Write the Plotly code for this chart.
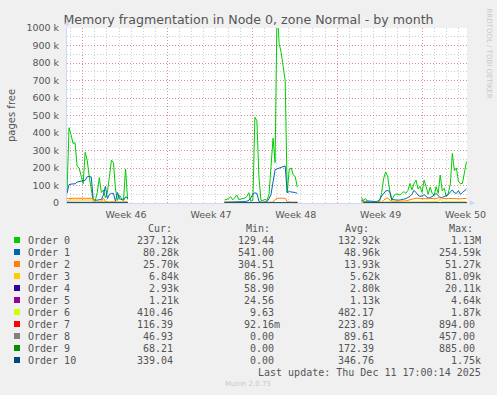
import pandas as pd
import plotly.graph_objects as go

# ---------------- data ----------------
orders = [f"Order {i}" for i in range(11)]
colors = ["#00CC00", "#0066B3", "#FF8000", "#FFCC00", "#330099", "#990099",
          "#CCFF00", "#FF0000", "#808080", "#008F00", "#00487D"]

# three recorded periods (4-hour samples), values in thousands of pages
fine_starts = ["2025-11-08 17:00", "2025-11-21 17:00", "2025-12-03 00:00"]

order0 = [
    [60, 430, 390, 340, 345, 210, 200, 150, 110, 290, 245, 150, 65, 10, 15, 60, 145, 60, 74, 30,
     60, 150, 245, 230, 80, 15, 45, 25, 20, 195, 20],
    [17, 20, 25, 36, 18, 30, 46, 20, 22, 25, 28, 36, 59, 10, 15, 490, 470, 150, 15, 15,
     20, 15, 50, 210, 370, 230, 1130, 912, 860, 780, 700, 60, 190, 200, 160, 150, 90],
    [32, 15, 25, 8, 5, 5, 4, 5, 5, 8, 60, 140, 178, 150, 70, 15, 40, 52, 50, 45,
     55, 65, 55, 72, 112, 75, 110, 131, 80, 95, 60, 130, 95, 50, 90, 55, 45, 93, 55, 160,
     70, 84, 36, 55, 110, 284, 185, 200, 125, 110, 112, 180, 237],
]
order1 = [
    [55, 105, 108, 108, 110, 120, 122, 125, 127, 130, 150, 152, 148, 20, 15, 17, 18, 20, 45, 95,
     25, 50, 55, 55, 10, 60, 25, 20, 15, 35, 30],
    [5, 5, 6, 5, 6, 5, 8, 5, 6, 5, 8, 10, 15, 30, 50, 58, 55, 10, 5, 5,
     5, 8, 25, 50, 120, 190, 195, 200, 205, 208, 212, 60, 65, 63, 62, 60, 55],
    [15, 10, 8, 12, 10, 8, 8, 8, 10, 20, 40, 55, 68, 72, 65, 20, 18, 17, 16, 17,
     18, 22, 25, 30, 38, 50, 72, 60, 45, 38, 40, 48, 35, 28, 30, 36, 45, 55, 40, 30,
     32, 38, 42, 48, 62, 75, 58, 55, 70, 50, 60, 68, 80],
]
order2 = [
    [25, 27, 27, 27, 27, 27, 27, 27, 28, 28, 28, 28, 28, 27, 4, 3, 5, 8, 28, 10,
     5, 4, 8, 6, 3, 5, 4, 3, 5, 8, 6],
    [5, 6, 8, 6, 4, 3, 3, 3, 3, 3, 3, 3, 3, 3, 3, 3, 3, 3, 3, 3,
     3, 3, 3, 3, 5, 20, 27, 28, 27, 28, 27, 8, 5, 5, 5, 5, 6],
    [8, 5, 3, 3, 3, 3, 3, 3, 4, 4, 5, 15, 27, 28, 20, 8, 8, 8, 9, 9,
     10, 10, 12, 15, 18, 25, 27, 28, 27, 26, 25, 24, 22, 24, 26, 25, 24, 26, 28, 35,
     26, 24, 25, 26, 25, 24, 25, 26, 25, 24, 25, 26, 26],
]
order3 = [
    [10, 17, 17, 17, 17, 17, 17, 17, 17, 17, 17, 17, 17, 17, 3, 4, 5, 8, 10, 6,
     4, 5, 6, 8, 5, 3, 4, 6, 8, 5, 4],
    [2, 3, 4, 3, 2, 2, 2, 2, 2, 2, 2, 2, 2, 3, 3, 3, 2, 2, 2, 2,
     2, 2, 2, 3, 3, 4, 4, 4, 4, 4, 4, 3, 3, 3, 3, 3, 3],
    [4, 3, 2, 2, 2, 2, 2, 2, 2, 3, 3, 4, 6, 7, 6, 4, 5, 5, 5, 6,
     6, 6, 6, 7, 7, 7, 8, 7, 7, 7, 7, 7, 7, 6, 7, 7, 7, 7, 8, 25,
     8, 7, 7, 7, 7, 7, 7, 7, 7, 7, 7, 7, 7],
]

# higher orders, 12-hour samples
coarse_starts = ["2025-11-08 17:00", "2025-11-21 17:00", "2025-12-03 04:00"]
order4 = [[4, 4, 4, 4, 4, 4, 4, 3, 3, 3, 3],
          [2, 2, 2, 2, 2, 2, 1.5, 1.5, 1.5, 1.5, 1.5, 1.5, 1.5],
          [2, 2, 2, 3, 3, 3, 3, 3, 4, 4, 4, 4, 4, 4, 3, 3, 3, 3]]
order5 = [[1.2, 1.2, 1.1, 1.1, 1.0, 1.0, 1.1, 1.0, 1.0, 1.1, 1.1],
          [1.0, 1.0, 1.1, 1.2, 1.3, 1.4, 1.6, 1.7, 1.7, 1.8, 1.8, 1.8, 1.8],
          [1.0, 0.9, 1.0, 1.1, 1.1, 1.2, 1.2, 1.1, 1.2, 1.2, 1.3, 1.2, 1.2, 1.3, 1.2, 1.2, 1.2, 1.21]]
order6 = [[0.6, 0.5, 0.5, 0.6, 0.4, 0.5, 0.4, 0.3, 0.4, 0.5, 0.4],
          [0.5, 0.4, 0.5, 0.6, 0.5, 0.4, 0.5, 0.6, 0.5, 0.4, 0.5, 0.4, 0.4],
          [0.4, 0.5, 0.5, 0.6, 0.5, 0.5, 0.4, 0.5, 0.6, 0.5, 0.4, 0.5, 0.5, 0.4, 0.5, 0.4, 0.4, 0.41]]
order7 = [[0.3, 0.2, 0.2, 0.3, 0.2, 0.2, 0.1, 0.2, 0.2, 0.3, 0.2],
          [0.2, 0.2, 0.3, 0.2, 0.2, 0.1, 0.2, 0.3, 0.2, 0.2, 0.2, 0.3, 0.2],
          [0.2, 0.3, 0.2, 0.2, 0.3, 0.2, 0.2, 0.2, 0.3, 0.2, 0.2, 0.2, 0.3, 0.2, 0.2, 0.1, 0.1, 0.12]]
order8 = [[0.1, 0.1, 0.1, 0.1, 0.1, 0.1, 0.1, 0.1, 0.1, 0.1, 0.1],
          [0.1, 0.1, 0.1, 0.1, 0.1, 0.1, 0.1, 0.1, 0.1, 0.1, 0.1, 0.1, 0.1],
          [0.1, 0.1, 0.1, 0.1, 0.1, 0.1, 0.1, 0.1, 0.1, 0.1, 0.1, 0.1, 0.1, 0.1, 0.1, 0.05, 0.05, 0.05]]
order9 = [[0.2, 0.2, 0.2, 0.2, 0.1, 0.2, 0.2, 0.2, 0.1, 0.2, 0.2],
          [0.2, 0.2, 0.2, 0.1, 0.2, 0.2, 0.2, 0.2, 0.1, 0.2, 0.2, 0.2, 0.2],
          [0.2, 0.2, 0.2, 0.1, 0.2, 0.2, 0.2, 0.2, 0.2, 0.1, 0.2, 0.2, 0.2, 0.2, 0.1, 0.1, 0.1, 0.07]]
order10 = [[0.4, 0.4, 0.3, 0.4, 0.3, 0.4, 0.3, 0.4, 0.3, 0.4, 0.3],
           [0.3, 0.4, 0.3, 0.4, 0.3, 0.4, 0.3, 0.4, 0.3, 0.4, 0.3, 0.3, 0.3],
           [0.4, 0.3, 0.4, 0.3, 0.4, 0.3, 0.4, 0.3, 0.4, 0.3, 0.4, 0.3, 0.4, 0.3, 0.4, 0.3, 0.3, 0.34]]

fine_series = [order0, order1, order2, order3]
coarse_series = [order4, order5, order6, order7, order8, order9, order10]

cur_vals = ["237.12k", "80.28k", "25.70k", "6.84k", "2.93k", "1.21k", "410.46", "116.39", "46.93", "68.21", "339.04"]
min_vals = ["129.44", "541.00", "304.51", "86.96", "58.90", "24.56", "9.63", "92.16m", "0.00", "0.00", "0.00"]
avg_vals = ["132.92k", "48.96k", "13.93k", "5.62k", "2.80k", "1.13k", "482.17", "223.89", "89.61", "172.39", "346.76"]
max_vals = ["1.13M", "254.59k", "51.27k", "81.09k", "20.11k", "4.64k", "1.87k", "894.00", "457.00", "885.00", "1.75k"]

y_ticks = [0, 100, 200, 300, 400, 500, 600, 700, 800, 900, 1000]
y_ticktext = ["0"] + [f"{v} k" for v in y_ticks[1:]]
week_starts = ["2025-11-10", "2025-11-17", "2025-11-24", "2025-12-01", "2025-12-08"]
week_label_pos = ["2025-11-13 14:00", "2025-11-20 14:00", "2025-11-27 14:00", "2025-12-04 14:00", "2025-12-11 14:00"]
week_labels = ["Week 46", "Week 47", "Week 48", "Week 49", "Week 50"]
x_range = ["2025-11-08 17:00:14", "2025-12-11 17:00:14"]

title = "Memory fragmentation in Node 0, zone Normal - by month"
last_update = "Last update: Thu Dec 11 17:00:14 2025"

# ---------------- figure ----------------
W, H = 497, 395
L, R, T, B = 67, 467, 28, 203


def join_segments(starts, segs, freq):
    xs, ys = [], []
    for k, (s, vals) in enumerate(zip(starts, segs)):
        t = pd.date_range(s, periods=len(vals), freq=freq)
        if k:
            xs.append(None)
            ys.append(None)
        xs += list(t)
        ys += list(vals)
    return xs, ys


fig = go.Figure()
all_series = [(fine_starts, s, "4h") for s in fine_series] + [(coarse_starts, s, "12h") for s in coarse_series]
for i, (starts, segs, freq) in enumerate(all_series):
    xs, ys = join_segments(starts, segs, freq)
    fig.add_trace(go.Scatter(x=xs, y=ys, mode="lines", name=orders[i],
                             line=dict(color=colors[i], width=1), connectgaps=False,
                             hoverinfo="skip"))

# helper trace for the label axis
fig.add_trace(go.Scatter(x=[x_range[0]], y=[0], xaxis="x2", mode="markers",
                         marker=dict(opacity=0), hoverinfo="skip", showlegend=False))

TXT = "#555555"
RED_GRID = "rgba(230,100,100,0.6)"
GRAY_GRID = "rgba(160,160,160,0.5)"


def px(x):
    return (x - L) / (R - L)


def py(y):
    return (B - y) / (B - T)


annotations = []
shapes = []
mono = "DejaVu Sans Mono"

# header
for txt, x in [("Cur:", 146), ("Min:", 244), ("Avg:", 343), ("Max:", 447)]:
    annotations.append(dict(x=px(x), y=py(228.5), xref="paper", yref="paper", text=txt,
                            xanchor="left", yanchor="middle", showarrow=False,
                            font=dict(family=mono, size=10, color=TXT)))


def fmt(v):
    return v if v[-1].isalpha() else v + "\u00a0"


for i, name in enumerate(orders):
    ry = 240.5 + 12 * i
    shapes.append(dict(type="rect", xref="paper", yref="paper",
                       x0=px(14), x1=px(20), y0=py(ry + 2.5), y1=py(ry - 3.5),
                       fillcolor=colors[i], line=dict(width=0)))
    annotations.append(dict(x=px(26), y=py(ry), xref="paper", yref="paper", text=name,
                            xanchor="left", yanchor="middle", showarrow=False,
                            font=dict(family=mono, size=10, color=TXT)))
    for vals, cx in [(cur_vals, 181), (min_vals, 282), (avg_vals, 382), (max_vals, 483)]:
        annotations.append(dict(x=px(cx), y=py(ry), xref="paper", yref="paper", text=fmt(vals[i]),
                                xanchor="right", yanchor="middle", showarrow=False,
                                font=dict(family=mono, size=10, color=TXT)))

annotations.append(dict(x=px(483), y=py(372.5), xref="paper", yref="paper", text=last_update,
                        xanchor="right", yanchor="middle", showarrow=False,
                        font=dict(family=mono, size=10, color=TXT)))
annotations.append(dict(x=px(248), y=py(384), xref="paper", yref="paper", text="Munin 2.0.73",
                        xanchor="center", yanchor="middle", showarrow=False,
                        font=dict(family="DejaVu Sans", size=7, color="#c8c8c8")))
annotations.append(dict(x=px(488.5), y=py(53), xref="paper", yref="paper",
                        text="RRDTOOL / TOBI OETIKER", textangle=90,
                        xanchor="center", yanchor="middle", showarrow=False,
                        font=dict(family="DejaVu Sans", size=7, color="#c8c8c8")))
annotations.append(dict(x=px(11), y=py(115), xref="paper", yref="paper",
                        text="pages free", textangle=-90,
                        xanchor="center", yanchor="middle", showarrow=False,
                        font=dict(family="DejaVu Sans", size=10, color=TXT)))
# axis arrows
annotations.append(dict(x=px(L), y=py(20), xref="paper", yref="paper", text="",
                        ax=0, ay=8, showarrow=True, arrowhead=2, arrowsize=1,
                        arrowwidth=1, arrowcolor="#CFD6F8"))
annotations.append(dict(x=px(475), y=py(B), xref="paper", yref="paper", text="",
                        ax=-8, ay=0, showarrow=True, arrowhead=2, arrowsize=1,
                        arrowwidth=1, arrowcolor="#CFD6F8"))

fig.update_layout(
    width=W, height=H,
    margin=dict(l=L, r=W - R, t=T, b=H - B, pad=0),
    paper_bgcolor="#F0F0F0", plot_bgcolor="#FFFFFF",
    showlegend=False,
    font=dict(family="DejaVu Sans", color=TXT),
    title=dict(text=title, x=0.5, xref="container", xanchor="center",
               y=1 - 19.5 / H, yanchor="middle", yref="container",
               font=dict(family="DejaVu Sans", size=12.6, color=TXT)),
    xaxis=dict(type="date", range=x_range, tickmode="array", tickvals=week_starts,
               showticklabels=False, ticks="",
               showgrid=True, gridcolor=RED_GRID, griddash="1px,2px", gridwidth=1,
               minor=dict(tick0="2025-11-10", dtick=86400000, showgrid=True,
                          gridcolor=GRAY_GRID, griddash="1px,2px", gridwidth=1, ticks=""),
               showline=True, linecolor="#CFD6F8", linewidth=1, zeroline=False,
               fixedrange=True),
    xaxis2=dict(type="date", range=x_range, overlaying="x", anchor="y", side="bottom",
                tickmode="array", tickvals=week_label_pos, ticktext=week_labels,
                showgrid=False, ticks="outside", ticklen=3, tickcolor="rgba(0,0,0,0)",
                tickfont=dict(family="DejaVu Sans", size=9.5, color=TXT),
                showline=False, zeroline=False),
    yaxis=dict(range=[0, 1000], tickmode="array", tickvals=y_ticks, ticktext=y_ticktext,
               showgrid=True, gridcolor=RED_GRID, griddash="1px,2px", gridwidth=1,
               minor=dict(tick0=0, dtick=50, showgrid=True, gridcolor=GRAY_GRID,
                          griddash="1px,2px", gridwidth=1, ticks=""),
               ticks="outside", ticklen=5, tickcolor="rgba(0,0,0,0)",
               tickfont=dict(family="DejaVu Sans", size=9.5, color=TXT),
               showline=True, linecolor="#CFD6F8", linewidth=1, zeroline=False),
    annotations=annotations,
    shapes=shapes,
)

fig.write_html("out.html")
